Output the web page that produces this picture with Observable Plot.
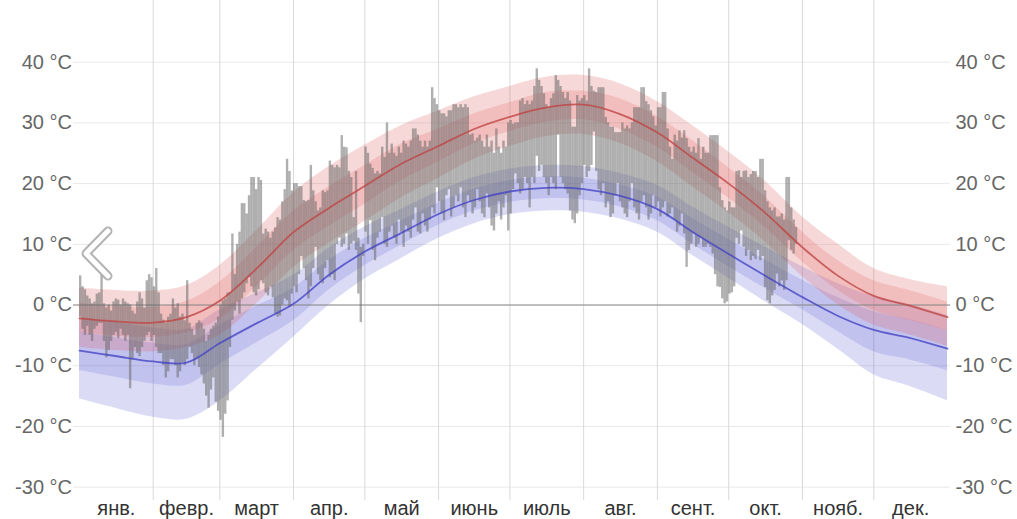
<!DOCTYPE html>
<html>
<head>
<meta charset="utf-8">
<script src="https://cdn.jsdelivr.net/npm/d3@7"></script>
<script src="https://cdn.jsdelivr.net/npm/@observablehq/plot@0.6"></script>
<style>
  html, body { margin: 0; padding: 0; background: #fff; }
  #wrap { position: relative; width: 1017px; height: 519px; overflow: hidden; }
  #wrap svg.plot { display: block; }
  #chev { position: absolute; left: 0; top: 0; pointer-events: none; }
</style>
</head>
<body>
<div id="wrap"></div>
<script>
// ---- categories / ticks ----
const monthLabels = ["янв.", "февр.", "март", "апр.", "май", "июнь", "июль", "авг.", "сент.", "окт.", "нояб.", "дек."];
const monthStarts = [31, 59, 90, 120, 151, 181, 212, 243, 273, 304, 334];
const monthMids = [15.5, 45, 74.5, 105, 135.5, 166, 196.5, 227.5, 258, 288.5, 319, 349.5];
const yTicks = [-30, -20, -10, 0, 10, 20, 30, 40];

// ---- climatology (day of year, °C) ----
const climDays = [0, 15, 31, 45, 59, 75, 90, 105, 120, 135, 151, 166, 181, 196, 212, 227, 243, 258, 273, 288, 304, 319, 334, 349, 365];
const avgHigh = [-2.2, -2.7, -2.9, -2.0, 0.7, 6.2, 12, 16, 19.6, 23.2, 26.2, 29, 31, 32.5, 33, 31.5, 28.4, 24.2, 20, 15.3, 9.5, 4.8, 1.5, -0.1, -2.0];
const high90 = [2.8, 2.4, 2.3, 3.2, 6.5, 12.5, 18.5, 22.8, 26.3, 29.5, 32, 34.3, 36, 37.5, 37.8, 36.5, 33.5, 29.5, 25.2, 20.5, 14.5, 10, 6.0, 4.2, 3.0];
const high75 = [0.3, -0.2, -0.4, 0.6, 3.8, 9.7, 15.5, 19.5, 23, 26.5, 29, 31.5, 33.3, 35, 35.2, 34, 31, 27, 22.6, 17.9, 12, 7.3, 4, 2.4, 0.5];
const high25 = [-4.6, -5.1, -5.3, -4.6, -2.3, 3.2, 9, 13, 16.6, 20.4, 23.6, 26.6, 28.6, 30.1, 30.5, 29, 26, 21.8, 17.6, 12.9, 7.1, 2.4, -0.9, -2.5, -4.2];
const high10 = [-7, -7.5, -7.7, -7, -5, 0.4, 6.2, 10.2, 13.8, 17.6, 20.9, 24, 26.1, 27.7, 28.1, 26.7, 23.6, 19.4, 15.2, 10.5, 4.7, 0, -3.3, -4.9, -6.8];
const avgLow = [-7.5, -8.4, -9.3, -9.5, -6.3, -2.9, 0.2, 5.0, 8.8, 11.8, 15.0, 17.3, 18.7, 19.3, 19.1, 18.0, 15.8, 12.0, 8.4, 4.9, 1.3, -1.8, -4.1, -5.4, -7.2];
const low90 = [-2.0, -2.9, -3.8, -4.0, -0.8, 2.1, 4.9, 9.4, 12.9, 15.7, 18.7, 21.0, 22.4, 23.0, 22.8, 21.7, 19.7, 16.1, 12.8, 9.6, 6.3, 3.5, 1.4, 0.1, -1.7];
const low75 = [-4.5, -5.4, -6.3, -6.5, -3.3, -0.1, 2.8, 7.4, 11.0, 13.8, 16.8, 19.1, 20.5, 21.1, 20.9, 19.8, 17.8, 14.2, 10.8, 7.5, 4.1, 1.2, -1.1, -2.4, -4.2];
const low25 = [-10.8, -11.9, -13.0, -13.2, -9.8, -6.1, -2.6, 2.5, 6.5, 9.8, 13.2, 15.5, 16.9, 17.5, 17.3, 16.2, 13.9, 10.0, 6.3, 2.8, -0.8, -4.4, -7.7, -9.0, -10.8];
const low10 = [-15.5, -17.0, -18.5, -18.8, -15.8, -10.4, -5.3, 0.0, 4.3, 7.6, 11.0, 13.4, 14.9, 15.5, 15.3, 14.2, 12.0, 8.1, 4.4, 0.6, -3.2, -7.3, -11.5, -13.4, -15.8];

// ---- observed daily highs / lows, day 0 = 1 Jan ----
const obsHigh = [
  4.8, 3, 2.5, 1.5, 1, 0.2, 0.5, 1.8, 2, 5,
  0.2, -0.5, 0, -1, 0.5, 1, 0.8, 0, 1, 0.5,
  0.2, 0, -1, -1.5, 0.5, 2, 1, -0.5, 4, 5,
  4.5, 3, 6, 2, -1.5, -2.5, -3, -2, -1.5, 1,
  -0.5, 0.2, -2, -1.5, -2.6, 4, -3, -4, -5, -3,
  -2.6, -3, -4, -6, -5, -4, -3.5, -3, -2, 0,
  0.7, 1, 2, 2, 11.7, 5, 10, 12, 16.7, 16.7,
  15, 18, 21, 21, 19, 21, 20.5, 11.7, 12.5, 12,
  11, 12, 12.7, 14.4, 14, 17, 19, 24, 22, 18.8,
  20, 20, 19.5, 19.5, 17.2, 17, 17.2, 23, 18.8, 17,
  15.5, 16, 18.8, 18.5, 18.8, 23.7, 23, 22.6, 23, 22.6,
  27.9, 26, 25.9, 22, 21, 14.4, 22, 11, 9.5, 10,
  26, 25, 23.2, 22.5, 21.6, 22, 21.6, 26, 24.3, 30,
  25, 26.5, 25, 24.5, 26, 25, 27, 26.5, 26, 27,
  29, 29, 28, 27, 26, 27, 26, 27, 35.8, 34,
  33, 32, 31.5, 31.5, 31, 32, 32, 33, 33, 32.5,
  33, 32.5, 33, 32.5, 28, 28.2, 27, 27.5, 28, 27,
  26, 28, 26, 27, 25, 29, 26, 25, 27, 26,
  30, 30.4, 29.8, 30, 30, 33.6, 34, 33, 33.6, 33,
  33.6, 36, 38.9, 37, 36, 34.8, 33, 32.5, 34, 34.8,
  37.8, 37, 36, 35, 34, 35, 33.6, 29.3, 29.3, 34.5,
  33.6, 34, 34.5, 33.6, 38.9, 36, 35.2, 35, 35.8, 35.8,
  35.8, 30.9, 30, 29.3, 29.3, 28.4, 28.4, 28.4, 30, 29,
  29.5, 29, 30, 32.5, 32.5, 32.5, 35.8, 35.8, 33.5, 33,
  32, 31, 29.5, 32.5, 32.5, 35, 35, 29, 26, 24,
  28, 27, 28.7, 27.5, 28.7, 27.4, 26, 25.2, 26, 25,
  27.4, 24, 26, 25, 25, 27.9, 27.9, 27.9, 27.9, 19.3,
  17.2, 16, 15.5, 17, 16, 16, 22, 22.1, 21, 22,
  22.1, 21, 21.5, 22, 22, 21, 24, 24, 18.8, 17,
  16, 15.5, 16, 14.5, 14.5, 15, 14, 21, 21, 16,
  14, 12.8
];
const obsLow = [
  -2, -4, -5, -3.5, -5, -6, -4, -3.5, -3, -3,
  -6, -8.7, -7.5, -6, -5, -4.5, -5.5, -4, -5, -6,
  -5, -13.8, -9, -7, -8, -8.5, -7, -6, -5, -4.5,
  -6, -5, -7, -8, -8, -10, -12, -11, -9, -9,
  -10, -12, -11, -9.5, -10, -9, -7, -8, -10, -9,
  -10.3, -11.5, -13, -15, -17, -14, -12, -16, -17.5, -19,
  -21.8, -18, -15.8, -7, -2.5, -1, 0.5, -1.5, 1, 2,
  3.5, 4.5, 3, 2, 1.5, 2.5, 4, 3.5, 2, 1.5,
  3, 1.2, -1.5, -2, -1.8, 0, 1, 0.7, -0.4, 1.8,
  3, 2, 5, 8, 6, 4, 1, 3, 6, 9.5,
  5, 4, 3.5, 6, 7.3, 4.5, 5, 4, 10, 11,
  9.5, 10, 11.7, 9, 10, 10.5, 9, 1.8, -2.9, 8,
  12, 10, 13.9, 9, 7.3, 11, 12, 14.4, 10, 9.5,
  12, 13, 11, 10, 14, 12, 9.5, 13, 12, 11,
  14, 16, 12, 11.7, 15, 13, 12, 14, 16, 15,
  19.3, 17, 15, 13.9, 18, 19, 14.5, 16, 18, 17,
  19.3, 16, 14.4, 18, 17, 15, 16, 19, 17, 15,
  14.4, 18.3, 16, 13, 12.2, 15, 17, 14, 16, 18,
  12.2, 15, 19, 21.6, 20, 18.3, 19, 21, 20, 16,
  21, 20, 24.5, 22, 23, 21, 20, 18, 21, 20,
  19, 28, 21, 20, 19, 18.3, 15.5, 14, 13.4, 15,
  18, 20, 23, 21, 22, 23, 28.5, 22, 19, 18,
  20, 16, 17, 14.4, 15, 18, 20, 17, 16, 15,
  14.4, 17, 20, 16, 15, 14, 17, 18, 16, 14,
  15, 18, 16, 17, 14.5, 16, 17, 14.5, 15, 16,
  14, 12, 13, 15, 11.7, 6.2, 9, 10, 11.7, 9.5,
  10, 11, 9.5, 9.5, 10, 9.5, 8.4, 5, 3, 2.9,
  1, 0.2, 0.5, 1.8, 2, 3, 11, 10, 12.2, 9.5,
  8, 9, 7.3, 8, 7.5, 9, 7.3, 8, 2.9, 0.7,
  0.2, 1.5, 2.4, 5.1, 3, 4, 2.4, 4, 10.6, 9,
  8.4, 10
];

// ---- tables built from the arrays ----
const clim = climDays.map((d, i) => ({
  d, hi: avgHigh[i], hi10: high10[i], hi25: high25[i], hi75: high75[i], hi90: high90[i],
  lo: avgLow[i], lo10: low10[i], lo25: low25[i], lo75: low75[i], lo90: low90[i]
}));
const obs = obsHigh.map((h, i) => ({ d: i, hi: h, lo: obsLow[i] }));
const labelOf = new Map(monthMids.map((m, i) => [m, monthLabels[i]]));

const curve = "catmull-rom";
const chart = Plot.plot({
  width: 1017,
  height: 519,
  marginLeft: 73,
  marginRight: 67,
  marginTop: 0,
  marginBottom: 19,
  style: { fontFamily: "'Liberation Sans', Arial, sans-serif", overflow: "visible", background: "#fff" },
  x: { type: "linear", domain: [-2.52, 366.26], axis: null, label: null },
  y: { domain: [-32.2, 50.16], axis: null, label: null },
  marks: [
    Plot.gridY(yTicks, { stroke: "#e8e8e8", strokeOpacity: 1 }),
    Plot.gridX(monthStarts, { stroke: "#d9d9d9", strokeOpacity: 1 }),
    // low temperature bands
    Plot.areaY(clim, { x: "d", y1: "lo10", y2: "lo90", curve, fill: "#6a6ad8", fillOpacity: 0.24 }),
    Plot.areaY(clim, { x: "d", y1: "lo25", y2: "lo75", curve, fill: "#6a6ad8", fillOpacity: 0.22 }),
    // high temperature bands
    Plot.areaY(clim, { x: "d", y1: "hi10", y2: "hi90", curve, fill: "#e06a6a", fillOpacity: 0.26 }),
    Plot.areaY(clim, { x: "d", y1: "hi25", y2: "hi75", curve, fill: "#e06a6a", fillOpacity: 0.24 }),
    Plot.ruleY([0], { stroke: "#8a8a8a", strokeWidth: 1 }),
    // observed daily ranges
    Plot.rect(obs, { x1: "d", x2: d => d.d + 1, y1: "lo", y2: "hi", fill: "#666", fillOpacity: 0.52 }),
    // averages
    Plot.line(clim, { x: "d", y: "hi", curve, stroke: "#bf4545", strokeWidth: 1.8, strokeOpacity: 0.8 }),
    Plot.line(clim, { x: "d", y: "lo", curve, stroke: "#4545c4", strokeWidth: 1.8, strokeOpacity: 0.8 }),
    // axes
    Plot.axisY(yTicks, { anchor: "left", label: null, tickSize: 0, tickPadding: 1.5, fontSize: 20, fill: "#666", tickFormat: d => `${d} °C` }),
    Plot.axisY(yTicks, { anchor: "right", label: null, tickSize: 0, tickPadding: 5, fontSize: 20, fill: "#666", tickFormat: d => `${d} °C` }),
    Plot.axisX(monthMids, { anchor: "bottom", label: null, tickSize: 0, tickPadding: 0, fontSize: 20, fill: "#333", tickFormat: d => labelOf.get(d) })
  ]
});
chart.classList.add("plot");
const wrap = document.getElementById("wrap");
wrap.appendChild(chart);

// navigation chevron (UI decoration)
const ns = "http://www.w3.org/2000/svg";
const chev = document.createElementNS(ns, "svg");
chev.setAttribute("id", "chev");
chev.setAttribute("width", "1017");
chev.setAttribute("height", "519");
const pts = "108,231 86,253.5 108,276";
[["#b3b3b3", 9], ["#ffffff", 5]].forEach(([c, w]) => {
  const pl = document.createElementNS(ns, "polyline");
  pl.setAttribute("points", pts);
  pl.setAttribute("fill", "none");
  pl.setAttribute("stroke", c);
  pl.setAttribute("stroke-width", w);
  pl.setAttribute("stroke-linecap", "round");
  pl.setAttribute("stroke-linejoin", "round");
  chev.appendChild(pl);
});
wrap.appendChild(chev);
</script>
</body>
</html>
